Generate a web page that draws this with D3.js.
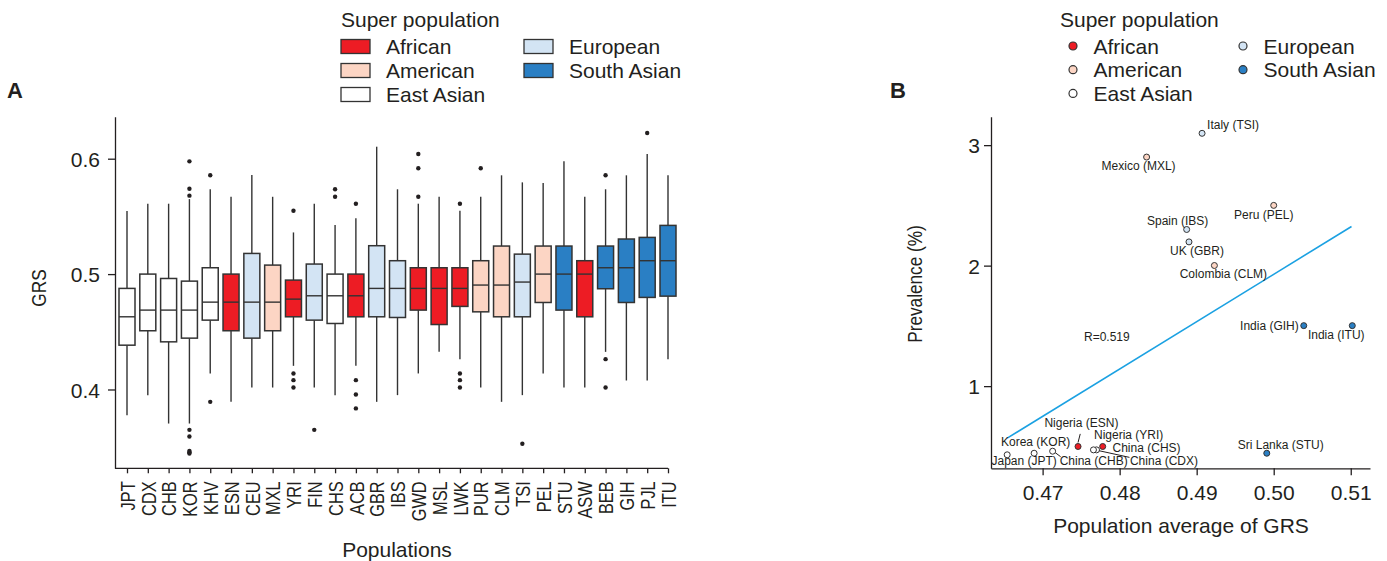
<!DOCTYPE html>
<html><head><meta charset="utf-8">
<script src="https://cdn.jsdelivr.net/npm/d3@7"></script>
<style>
body{margin:0;background:#fff}
text{font-family:"Liberation Sans",Arial,Helvetica,sans-serif;fill:#231f20}
</style>
</head><body>
<svg id="c" width="1387" height="561"></svg>
<script>
// ---------- DATA (panel A) ----------
const populations = ["JPT","CDX","CHB","KOR","KHV","ESN","CEU","MXL","YRI","FIN","CHS","ACB","GBR","IBS","GWD","MSL","LWK","PUR","CLM","TSI","PEL","STU","ASW","BEB","GIH","PJL","ITU"];
const superPop = ["East Asian","East Asian","East Asian","East Asian","East Asian","African","European","American","African","European","East Asian","African","European","European","African","African","African","American","American","European","American","South Asian","African","South Asian","South Asian","South Asian","South Asian"];
const whiskerLow  = [0.3777,0.3951,0.3705,0.3705,0.4139,0.3893,0.4017,0.4017,0.4205,0.4017,0.3951,0.4205,0.3893,0.3951,0.4139,0.4326,0.4263,0.4017,0.3893,0.3951,0.4139,0.4017,0.4017,0.4326,0.4078,0.4078,0.4263];
const q1          = [0.4384,0.4509,0.4413,0.4445,0.4601,0.4509,0.4445,0.4509,0.4630,0.4601,0.4572,0.4630,0.4630,0.4624,0.4688,0.4563,0.4720,0.4673,0.4630,0.4630,0.4754,0.4688,0.4630,0.4873,0.4754,0.4798,0.4809];
const medians     = [0.4630,0.4688,0.4688,0.4688,0.4757,0.4757,0.4757,0.4757,0.4783,0.4812,0.4812,0.4812,0.4876,0.4876,0.4876,0.4876,0.4876,0.4905,0.4905,0.4931,0.5000,0.5000,0.5000,0.5055,0.5055,0.5116,0.5116];
const q3          = [0.4876,0.5000,0.4962,0.4939,0.5055,0.5000,0.5179,0.5078,0.4948,0.5087,0.5000,0.5000,0.5246,0.5116,0.5055,0.5055,0.5055,0.5116,0.5243,0.5173,0.5243,0.5243,0.5116,0.5243,0.5304,0.5318,0.5422];
const whiskerHigh = [0.5546,0.5610,0.5610,0.5650,0.5735,0.5670,0.5859,0.5670,0.5361,0.5610,0.5425,0.5483,0.6104,0.5735,0.5610,0.5670,0.5549,0.5670,0.5856,0.5795,0.5789,0.5977,0.5670,0.5735,0.5856,0.6041,0.5856];
const outliers = [[],[],[],[0.5977,0.574,0.568,0.365,0.3592,0.3467,0.3456,0.3445],[0.5856,0.3893],[],[],[],[0.5549,0.4139,0.4081,0.4017],[0.365],[0.5735,0.567],[0.561,0.4081,0.3957,0.3836],[],[],[0.6041,0.5917,0.567],[],[0.561,0.4139,0.4081,0.4017],[0.5917],[],[0.353],[],[],[],[0.5856,0.4263,0.4017],[],[0.6223],[]];
const yTicksA = [0.4,0.5,0.6];
const yLimA = [0.3317,0.6364];

// ---------- DATA (panel B) ----------
const bCodes  = ["TSI","MXL","PEL","IBS","GBR","CLM","GIH","ITU","STU","JPT","KOR","CHB","ESN","YRI","CHS","CDX"];
const bNames  = ["Italy (TSI)","Mexico (MXL)","Peru (PEL)","Spain (IBS)","UK (GBR)","Colombia (CLM)","India (GIH)","India (ITU)","Sri Lanka (STU)","Japan (JPT)","Korea (KOR)","China (CHB)","Nigeria (ESN)","Nigeria (YRI)","China (CHS)","China (CDX)"];
const bGroup  = ["European","American","American","European","European","American","South Asian","South Asian","South Asian","East Asian","East Asian","East Asian","African","African","East Asian","East Asian"];
const bAvgGRS = [0.4907,0.4835,0.5000,0.4887,0.4890,0.4923,0.5039,0.5102,0.4991,0.4654,0.4689,0.4713,0.4746,0.4778,0.4770,0.4766];
const bPrev   = [3.098,2.901,2.50,2.30,2.197,2.001,1.502,1.502,0.443,0.430,0.443,0.460,0.499,0.499,0.471,0.471];
const fitX = [0.4654,0.5101];
const fitY = [0.568,2.325];
const rText = "R=0.519";
const xTicksB = [0.47,0.48,0.49,0.50,0.51];
const yTicksB = [1,2,3];
const xLimB = [0.4633,0.5125];
const yLimB = [0.318,3.236];

const groups = ["African","American","East Asian","European","South Asian"];
const groupColors = ["#ED1C24","#FCD5C4","#FFFFFF","#D3E4F4","#2A7FC4"];

// ---------- DRAW ----------
const svg = d3.select("#c");
const color = d3.scaleOrdinal().domain(groups).range(groupColors);
const ink = "#231f20";

// ===== Panel A =====
const xA = d3.scalePoint().domain(populations).range([127,668]);
const yA = d3.scaleLinear().domain(yLimA).range([468.3,116.7]);
const gA = svg.append("g");

const yAxA = gA.append("g").attr("transform","translate(115,0)")
  .call(d3.axisLeft(yA).tickValues(yTicksA).tickSize(7).tickSizeOuter(0).tickPadding(8).tickFormat(d3.format(".1f")));
yAxA.selectAll("text").attr("font-size",21).attr("dy","0.36em");
yAxA.selectAll("path,line").attr("stroke",ink).attr("stroke-width",1.3);

const xAxA = gA.append("g").attr("transform","translate(0,468.3)")
  .call(d3.axisBottom(xA).tickSize(5).tickSizeOuter(0));
xAxA.select(".domain").remove();
xAxA.selectAll("line").attr("stroke",ink).attr("stroke-width",1.3);
xAxA.selectAll("text").attr("font-size",20).attr("x",0).attr("y",0).attr("dy","0.36em")
  .attr("text-anchor","end").attr("transform","translate(0,13) rotate(-90) scale(0.82,1)");
gA.append("line").attr("x1",115).attr("x2",xA(populations[populations.length-1]))
  .attr("y1",468.3).attr("y2",468.3).attr("stroke",ink).attr("stroke-width",1.3);

const bw = 16;
const boxes = gA.append("g").selectAll("g").data(populations).join("g");
boxes.append("line").attr("x1",d=>xA(d)).attr("x2",d=>xA(d))
  .attr("y1",(d,i)=>yA(whiskerHigh[i])).attr("y2",(d,i)=>yA(q3[i])).attr("stroke","#333").attr("stroke-width",1.4);
boxes.append("line").attr("x1",d=>xA(d)).attr("x2",d=>xA(d))
  .attr("y1",(d,i)=>yA(q1[i])).attr("y2",(d,i)=>yA(whiskerLow[i])).attr("stroke","#333").attr("stroke-width",1.4);
boxes.append("rect").attr("x",d=>xA(d)-bw/2).attr("width",bw)
  .attr("y",(d,i)=>yA(q3[i])).attr("height",(d,i)=>yA(q1[i])-yA(q3[i]))
  .attr("fill",(d,i)=>color(superPop[i])).attr("stroke","#333").attr("stroke-width",1.5);
boxes.append("line").attr("x1",d=>xA(d)-bw/2).attr("x2",d=>xA(d)+bw/2)
  .attr("y1",(d,i)=>yA(medians[i])).attr("y2",(d,i)=>yA(medians[i])).attr("stroke","#333").attr("stroke-width",1.4);
boxes.each(function(d,i){
  d3.select(this).selectAll("circle").data(outliers[i]).join("circle")
    .attr("cx",xA(d)).attr("cy",v=>yA(v)).attr("r",2.2).attr("fill",ink);
});

gA.append("text").attr("transform","translate(46,288) rotate(-90) scale(0.82,1)")
  .attr("text-anchor","middle").attr("font-size",21).text("GRS");
gA.append("text").attr("x",397).attr("y",557).attr("text-anchor","middle").attr("font-size",21).text("Populations");
gA.append("text").attr("x",7).attr("y",98).attr("font-size",22).attr("font-weight","bold").text("A");

// Legend A
const legA = gA.append("g");
legA.append("text").attr("x",341).attr("y",27).attr("font-size",21).text("Super population");
groups.forEach((g,i)=>{
  const col = i<3?0:1, row = i<3?i:i-3;
  const lx = col===0?341:524, cy = 46.5+row*24;
  legA.append("rect").attr("x",lx).attr("y",cy-7).attr("width",29).attr("height",14)
    .attr("fill",color(g)).attr("stroke","#333").attr("stroke-width",1.3);
  legA.append("text").attr("x",lx+45).attr("y",cy+7.5).attr("font-size",21).text(g);
});

// ===== Panel B =====
const xB = d3.scaleLinear().domain(xLimB).range([991,1370]);
const yB = d3.scaleLinear().domain(yLimB).range([468.3,116.7]);
const gB = svg.append("g");

const yAxB = gB.append("g").attr("transform","translate(991,0)")
  .call(d3.axisLeft(yB).tickValues(yTicksB).tickSize(7).tickSizeOuter(0).tickPadding(4).tickFormat(d3.format("d")));
yAxB.selectAll("text").attr("font-size",21).attr("dy","0.36em");
yAxB.selectAll("path,line").attr("stroke",ink).attr("stroke-width",1.3);

const xAxB = gB.append("g").attr("transform","translate(0,468.3)")
  .call(d3.axisBottom(xB).tickValues(xTicksB).tickSize(7).tickSizeOuter(0).tickPadding(10).tickFormat(d3.format(".2f")));
xAxB.selectAll("text").attr("font-size",21);
xAxB.selectAll("path,line").attr("stroke",ink).attr("stroke-width",1.3);

gB.append("text").attr("transform","translate(922,284) rotate(-90) scale(0.82,1)")
  .attr("text-anchor","middle").attr("font-size",21).text("Prevalence (%)");
gB.append("text").attr("x",1181).attr("y",533).attr("text-anchor","middle").attr("font-size",21).text("Population average of GRS");
gB.append("text").attr("x",890).attr("y",98).attr("font-size",22).attr("font-weight","bold").text("B");

// regression line
gB.append("line").attr("x1",xB(fitX[0])).attr("y1",yB(fitY[0])).attr("x2",xB(fitX[1])).attr("y2",yB(fitY[1]))
  .attr("stroke","#1BA1E2").attr("stroke-width",1.6);
gB.append("text").attr("x",1084).attr("y",341).attr("font-size",12).text(rText);

// label layout (offsets from point, pixels)
const labelLayout = {
  TSI:[5,-4,"start"], MXL:[-8,13,"middle"], PEL:[-10,13.4,"middle"], IBS:[-9,-4.3,"middle"],
  GBR:[8,13.3,"middle"], CLM:[9,12.4,"middle"], GIH:[-5,4,"end"], ITU:[-16,13.7,"middle"],
  STU:[14,-4.4,"middle"], JPT:[17,10,"middle"], KOR:[1.5,-7.7,"middle"], CHB:[7,13.6,"start"],
  ESN:[3.4,-19.3,"middle"], YRI:[26,-7.7,"middle"], CHS:[16,2.4,"start"], CDX:[36.5,15,"start"]
};
const leaders = {CHB:[[2,1],[8,5.5]], ESN:[[0,-4],[2.2,-12.6]], CDX:[[4,0.5],[36,7.5]]};

bCodes.forEach((c,i)=>{
  const px = xB(bAvgGRS[i]), py = yB(bPrev[i]);
  if (leaders[c]) {
    const L = leaders[c];
    gB.append("line").attr("x1",px+L[0][0]).attr("y1",py+L[0][1]).attr("x2",px+L[1][0]).attr("y2",py+L[1][1])
      .attr("stroke",ink).attr("stroke-width",1);
  }
});
gB.append("g").selectAll("circle").data(bCodes).join("circle")
  .attr("cx",(d,i)=>xB(bAvgGRS[i])).attr("cy",(d,i)=>yB(bPrev[i])).attr("r",3)
  .attr("fill",(d,i)=>color(bGroup[i])).attr("stroke","#333").attr("stroke-width",1);
gB.append("g").selectAll("text").data(bCodes).join("text")
  .attr("x",(d,i)=>xB(bAvgGRS[i])+labelLayout[d][0]).attr("y",(d,i)=>yB(bPrev[i])+labelLayout[d][1])
  .attr("text-anchor",d=>labelLayout[d][2]).attr("font-size",12).text((d,i)=>bNames[i]);

// Legend B
const legB = gB.append("g");
legB.append("text").attr("x",1060).attr("y",27).attr("font-size",21).text("Super population");
groups.forEach((g,i)=>{
  const col = i<3?0:1, row = i<3?i:i-3;
  const cx = col===0?1073:1243, cy = 46+row*23.7;
  legB.append("circle").attr("cx",cx).attr("cy",cy).attr("r",4)
    .attr("fill",color(g)).attr("stroke","#333").attr("stroke-width",1.2);
  legB.append("text").attr("x",cx+20.5).attr("y",cy+7.5).attr("font-size",21).text(g);
});
</script>
</body></html>
